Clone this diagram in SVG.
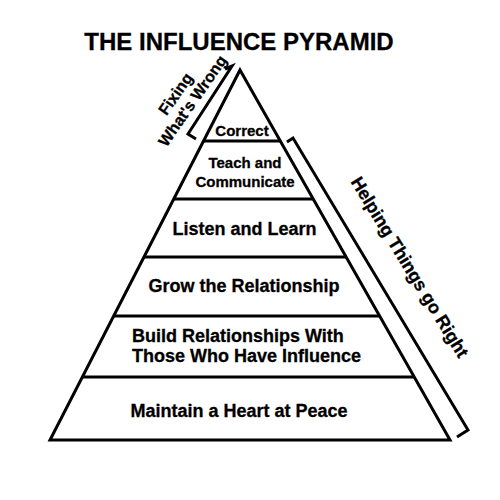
<svg xmlns="http://www.w3.org/2000/svg" width="500" height="500" viewBox="0 0 500 500">
<style>
.ln{stroke:#000;stroke-width:3;fill:none;stroke-linejoin:miter}
.t{font-family:"Liberation Sans",Arial,sans-serif;font-weight:bold;fill:#000;stroke:#000;stroke-width:0.3}
.s15{font-size:15px}
.s16{font-size:16px}
.s18{font-size:18px}
</style>
<rect width="500" height="500" fill="#fff"/>
<text class="t" x="239" y="50" font-size="24" text-anchor="middle">THE INFLUENCE PYRAMID</text>
<g id="pyramid">
<path class="ln" d="M240,70 L450,440 L50,440 Z"/>
</g>
<g id="connectors">
<line class="ln" x1="204" y1="141" x2="280" y2="141"/>
<line class="ln" x1="174" y1="199" x2="313" y2="199"/>
<line class="ln" x1="144" y1="257" x2="346" y2="257"/>
<line class="ln" x1="114" y1="316" x2="380" y2="316"/>
<line class="ln" x1="83" y1="377" x2="414" y2="377"/>
</g>
<g id="correct"><text class="t s15" x="242" y="136" text-anchor="middle">Correct</text></g>
<g id="teach"><text class="t s15" x="245" y="168" text-anchor="middle">Teach and</text><text class="t s15" x="245" y="187" text-anchor="middle">Communicate</text></g>
<g id="listen"><text class="t s18" x="244.5" y="235" text-anchor="middle">Listen and Learn</text></g>
<g id="grow"><text class="t s18" x="244" y="292" text-anchor="middle">Grow the Relationship</text></g>
<g id="build"><text class="t s18" x="132" y="342">Build Relationships With</text><text class="t s18" x="132" y="362">Those Who Have Influence</text></g>
<g id="maintain"><text class="t s18" x="239" y="417" text-anchor="middle">Maintain a Heart at Peace</text></g>
<g id="fixing">
<path class="ln" d="M225,69 L232,66 L188,134 L196,139"/>
<text class="t s16" text-anchor="middle" transform="translate(180,97) rotate(-55)">Fixing</text>
<text class="t s16" text-anchor="middle" transform="translate(197,104) rotate(-55)">What's Wrong</text>
</g>
<g id="helping">
<path class="ln" d="M287,142 L293,138 L468,430 L457,437"/>
<text class="t s18" text-anchor="middle" transform="translate(404.5,270.4) rotate(58.5)">Helping Things go Right</text>
</g>
</svg>
